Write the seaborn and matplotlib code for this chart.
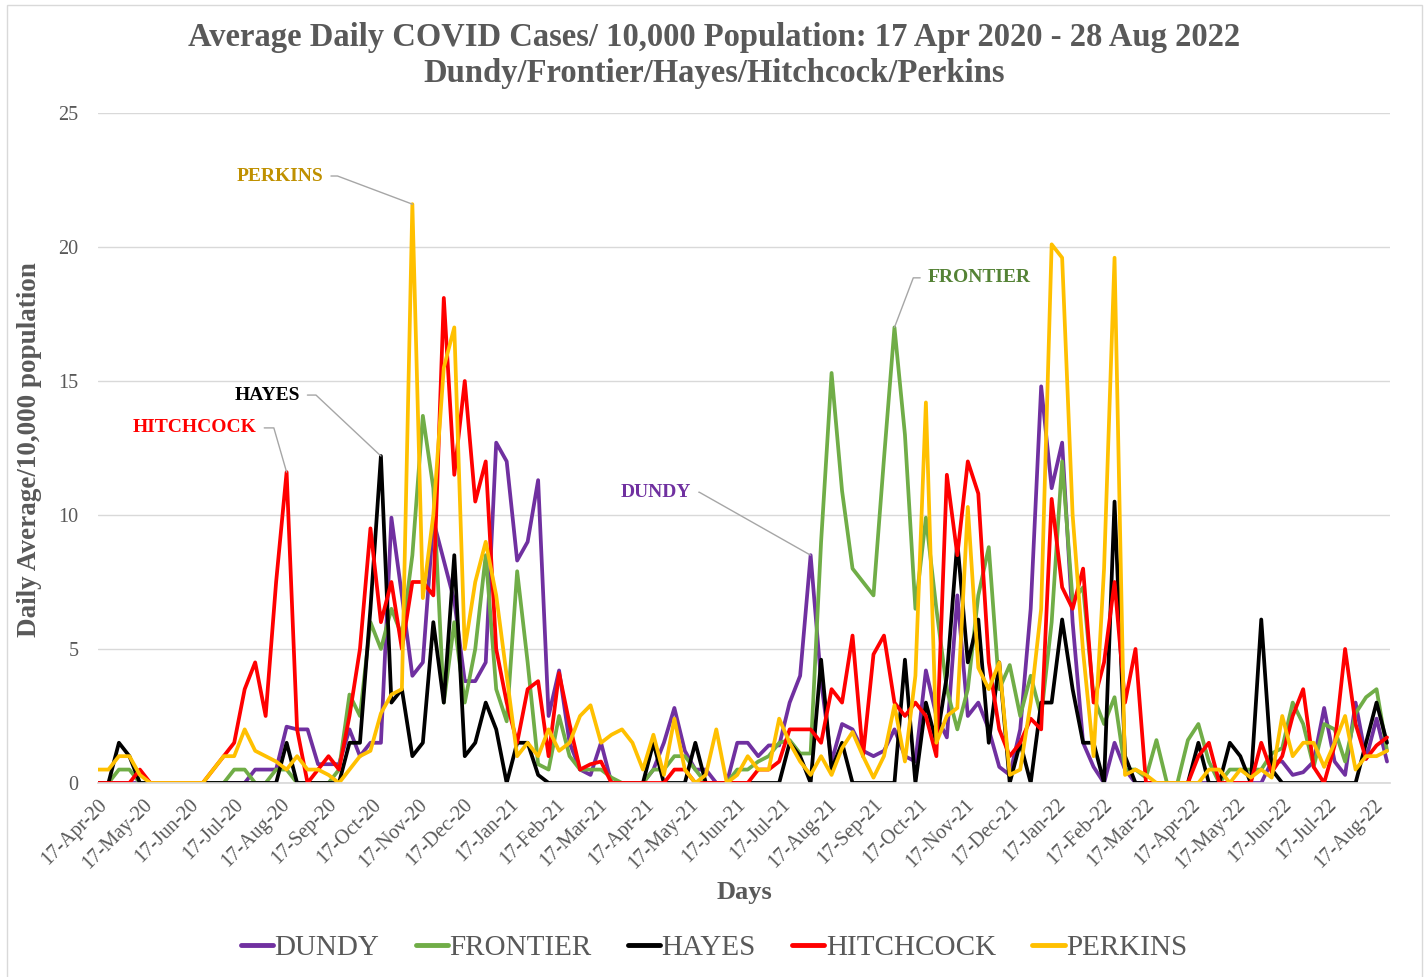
import numpy as np
import pandas as pd
import matplotlib
matplotlib.use("Agg")
import matplotlib.pyplot as plt
import matplotlib.dates as mdates
from matplotlib.patches import Rectangle
import seaborn as sns

# Values, one reading every 7 days from 17 Apr 2020
start_date = "2020-04-17"
end_date = "2022-08-28"

dundy = [
    0, 0, 0, 0, 0, 0, 0, 0, 0, 0,
    0, 0, 0, 0, 0, 0.5, 0.5, 0.5, 2.1, 2.0,
    2.0, 0.7, 0.7, 0.7, 2.0, 1.0, 1.5, 1.5, 9.9, 7.0,
    4.0, 4.5, 9.8, 8.3, 6.8, 3.8, 3.8, 4.5, 12.7, 12.0,
    8.3, 9.0, 11.3, 2.5, 4.2, 1.5, 0.5, 0.3, 1.5, 0,
    0, 0, 0, 0.5, 1.5, 2.8, 1.2, 0.5, 0.5, 0,
    0, 1.5, 1.5, 1.0, 1.4, 1.4, 3.0, 4.0, 8.5, 3.8,
    0.8, 2.2, 2.0, 1.2, 1.0, 1.2, 2.0, 1.0, 0.8, 4.2,
    2.5, 1.7, 7.0, 2.5, 3.0, 2.0, 0.6, 0.3, 2.0, 6.5,
    14.8, 11.0, 12.7, 6.0, 1.5, 0.6, 0, 1.5, 0.5, 0,
    0, 0, 0, 0, 0, 0, 0, 0, 0, 0,
    0, 0, 0.8, 0.8, 0.3, 0.4, 0.8, 2.8, 0.8, 0.3,
    3.0, 0.9, 2.4, 0.8,
]

frontier = [
    0, 0, 0.5, 0.5, 0, 0, 0, 0, 0, 0,
    0, 0, 0, 0.5, 0.5, 0, 0, 0.5, 0.5, 0,
    0, 0, 0, 0.5, 3.3, 2.5, 6.0, 5.0, 6.5, 5.5,
    8.5, 13.7, 11.0, 3.0, 6.0, 3.0, 5.0, 8.5, 3.5, 2.3,
    7.9, 4.5, 0.7, 0.5, 2.5, 1.0, 0.5, 0.5, 0.5, 0.2,
    0, 0, 0, 0.5, 0.5, 1.0, 1.0, 0.5, 0, 0,
    0, 0.5, 0.5, 0.8, 1.0, 1.5, 1.6, 1.1, 1.1, 9.0,
    15.3, 10.9, 8.0, 7.5, 7.0, 12.1, 17.0, 13.0, 6.5, 9.9,
    6.5, 3.5, 2.0, 3.5, 7.0, 8.8, 3.5, 4.4, 2.5, 4.0,
    2.5, 6.0, 12.0, 6.8, 7.3, 3.2, 2.2, 3.2, 0.5, 0.5,
    0.2, 1.6, 0, 0, 1.6, 2.2, 0.8, 0, 0.5, 0.5,
    0.5, 0.5, 1.1, 1.3, 3.0, 2.2, 0.6, 2.2, 2.0, 0.8,
    2.6, 3.2, 3.5, 1.2,
]

hayes = [
    0, 0, 1.5, 1.0, 0, 0, 0, 0, 0, 0,
    0, 0, 0, 0, 0, 0, 0, 0, 1.5, 0,
    0, 0, 0, 0, 1.5, 1.5, 6.5, 12.2, 3.0, 3.5,
    1.0, 1.5, 6.0, 3.0, 8.5, 1.0, 1.5, 3.0, 2.0, 0,
    1.5, 1.5, 0.3, 0, 0, 0, 0, 0, 0, 0,
    0, 0, 0, 1.5, 0, 0, 0, 1.5, 0, 0,
    0, 0, 0, 0, 0, 0, 1.5, 1.0, 0, 4.6,
    0.5, 1.5, 0, 0, 0, 0, 0, 4.6, 0, 3.0,
    1.5, 4.0, 9.0, 4.5, 6.1, 1.5, 4.5, 0, 1.5, 0,
    3.0, 3.0, 6.1, 3.5, 1.5, 1.5, 0, 10.5, 1.0, 0,
    0, 0, 0, 0, 0, 1.5, 0, 0, 1.5, 1.0,
    0, 6.1, 0.5, 0, 0, 0, 0, 0, 0, 0,
    0, 1.5, 3.0, 1.5,
]

hitchcock = [
    0, 0, 0, 0, 0.5, 0, 0, 0, 0, 0,
    0, 0.5, 1.0, 1.5, 3.5, 4.5, 2.5, 7.5, 11.6, 2.0,
    0, 0.5, 1.0, 0.5, 2.5, 5.0, 9.5, 6.0, 7.5, 5.0,
    7.5, 7.5, 7.0, 18.1, 11.5, 15.0, 10.5, 12.0, 5.0, 3.0,
    1.5, 3.5, 3.8, 1.0, 4.1, 2.2, 0.5, 0.7, 0.8, 0,
    0, 0, 0, 0, 0, 0.5, 0.5, 0, 0, 0,
    0, 0, 0, 0.5, 0.5, 0.8, 2.0, 2.0, 2.0, 1.5,
    3.5, 3.0, 5.5, 1.0, 4.8, 5.5, 3.0, 2.5, 3.0, 2.5,
    1.0, 11.5, 8.5, 12.0, 10.8, 4.5, 2.0, 1.0, 1.5, 2.4,
    2.0, 10.6, 7.3, 6.5, 8.0, 3.0, 4.5, 7.5, 3.0, 5.0,
    0, 0, 0, 0, 0, 1.0, 1.5, 0, 0, 0,
    0, 1.5, 0.4, 1.0, 2.5, 3.5, 0.6, 0, 1.4, 5.0,
    2.2, 0.9, 1.4, 1.7,
]

perkins = [
    0.5, 0.5, 1.0, 1.0, 0.3, 0, 0, 0, 0, 0,
    0, 0.5, 1.0, 1.0, 2.0, 1.2, 1.0, 0.8, 0.5, 1.0,
    0.5, 0.5, 0.3, 0, 0.5, 1.0, 1.2, 2.6, 3.3, 3.5,
    21.6, 6.9, 10.0, 15.5, 17.0, 5.0, 7.5, 9.0, 7.0, 4.0,
    1.0, 1.5, 1.0, 2.0, 1.2, 1.5, 2.5, 2.9, 1.5, 1.8,
    2.0, 1.5, 0.5, 1.8, 0.3, 2.4, 0.5, 0, 0.3, 2.0,
    0, 0.3, 1.0, 0.5, 0.5, 2.4, 1.5, 0.8, 0.3, 1.0,
    0.3, 1.3, 1.9, 1.0, 0.2, 1.0, 2.9, 0.8, 4.0, 14.2,
    1.5, 2.5, 2.8, 10.3, 4.3, 3.5, 4.5, 0.3, 0.5, 3.0,
    6.5, 20.1, 19.6, 10.0, 4.9, 1.0, 8.0, 19.6, 0.3, 0.5,
    0.3, 0, 0, 0, 0, 0, 0.5, 0.5, 0, 0.5,
    0.2, 0.5, 0.2, 2.5, 1.0, 1.5, 1.5, 0.6, 1.5, 2.5,
    0.5, 1.0, 1.0, 1.2,
]

counties = ["DUNDY", "FRONTIER", "HAYES", "HITCHCOCK", "PERKINS"]
line_colors = ["#7030A0", "#70AD47", "#000000", "#FF0000", "#FFC000"]

# (county, text colour, text position in axes fraction, leader angle, side, weeks to search for the peak)
callouts = [
    ("PERKINS", "#BF9000", (0.141, 0.906), -20.6, "right", (0, 60)),
    ("HAYES", "#000000", (0.131, 0.579), -43.2, "right", (0, 60)),
    ("HITCHCOCK", "#FF0000", (0.075, 0.530), -73.9, "right", (0, 22)),
    ("DUNDY", "#7030A0", (0.432, 0.434), -29.5, "right", (60, 75)),
    ("FRONTIER", "#548235", (0.682, 0.754), -110.8, "left", (60, 90)),
]

grey_text = "#595959"

series = dict(zip(counties, [dundy, frontier, hayes, hitchcock, perkins]))
dates = pd.date_range(start_date, periods=len(dundy), freq="7D")
df = pd.concat(
    [pd.DataFrame({"Date": dates, "County": c, "Cases": series[c]}) for c in counties],
    ignore_index=True,
)

sns.set_theme(style="white")
plt.rcParams["font.family"] = ["Liberation Serif", "DejaVu Serif"]

fig = plt.figure(figsize=(14.28, 9.77), dpi=100)
ax = fig.add_axes([0.0686, 0.1986, 0.9048, 0.6857])

sns.lineplot(data=df, x="Date", y="Cases", hue="County", hue_order=counties,
             palette=line_colors, linewidth=2.7, errorbar=None, ax=ax)

ax.set_xlim(pd.Timestamp(start_date), pd.Timestamp(end_date))
ax.set_ylim(0, 25)
ax.set_yticks([0, 5, 10, 15, 20, 25])
ax.yaxis.grid(True, color="#d9d9d9", linewidth=1)
ax.xaxis.grid(False)
for side in ["left", "right", "top"]:
    ax.spines[side].set_visible(False)
ax.spines["bottom"].set_color("#d9d9d9")
ax.set_axisbelow(True)

ax.xaxis.set_major_locator(mdates.MonthLocator(bymonthday=17))
ax.xaxis.set_major_formatter(mdates.DateFormatter("%d-%b-%y"))
ax.tick_params(axis="x", colors="#bfbfbf", length=5, width=1, direction="out",
               labelsize=14.5, labelcolor=grey_text, pad=4)
ax.tick_params(axis="y", length=0, labelsize=14.5, labelcolor=grey_text, pad=14)
for lbl in ax.get_xticklabels():
    lbl.set_rotation(45)
    lbl.set_ha("right")
    lbl.set_va("top")
    lbl.set_rotation_mode("anchor")

ax.set_xlabel("Days", fontsize=19, fontweight="bold", color=grey_text)
ax.xaxis.label.set_va("center")
ax.xaxis.set_label_coords(0.5, -0.164)
ax.set_ylabel("Daily Average/10,000 population", fontsize=19.5, fontweight="bold", color=grey_text)
ax.yaxis.set_label_coords(-0.043, 0.497)

# callout labels with grey leader lines
for name, tcolor, pos, ang, side, (lo, hi) in callouts:
    vals = series[name]
    i = lo + int(np.argmax(vals[lo:hi]))
    rel = (1, 0.5) if side == "right" else (0, 0.5)
    ax.annotate(name, xy=(dates[i], vals[i]), xycoords="data",
                xytext=pos, textcoords="axes fraction",
                ha="center", va="center", fontsize=14, fontweight="bold", color=tcolor,
                arrowprops=dict(arrowstyle="-", color="#a6a6a6", lw=1,
                                shrinkA=3, shrinkB=0, relpos=rel,
                                connectionstyle=f"angle,angleA=0,angleB={ang},rad=0"))

handles, labels = ax.get_legend_handles_labels()
ax.get_legend().remove()
for h in handles:
    h.set_linewidth(3.5)
fig.legend(handles, labels, loc="center", bbox_to_anchor=(0.5, 0.03), ncol=5,
           frameon=False, fontsize=21, handlelength=1.1, handletextpad=0.05,
           columnspacing=1.25, labelcolor=grey_text)

fig.text(0.5, 0.962, "Average Daily COVID Cases/ 10,000 Population: 17 Apr 2020 - 28 Aug 2022",
         ha="center", va="center", fontsize=23.5, fontweight="bold", color=grey_text)
fig.text(0.5, 0.925, "Dundy/Frontier/Hayes/Hitchcock/Perkins",
         ha="center", va="center", fontsize=23.5, fontweight="bold", color=grey_text)

fig.patches.append(Rectangle((0.005, -0.01), 0.991, 1.005, transform=fig.transFigure,
                             fill=False, edgecolor="#d9d9d9", linewidth=1))

fig.savefig("out.png", dpi=100)
